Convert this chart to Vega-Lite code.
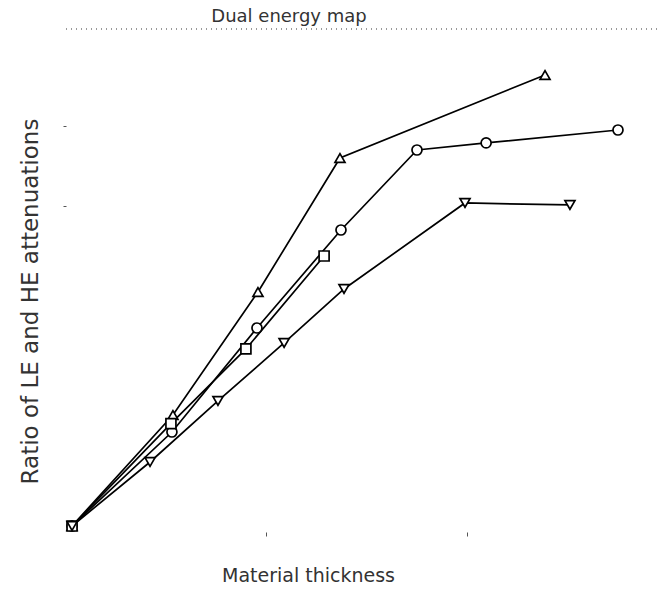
{
  "$schema": "https://vega.github.io/schema/vega-lite/v6.json",
  "width": 594,
  "height": 503,
  "autosize": "none",
  "padding": {"left": 66, "top": 29, "right": 6, "bottom": 60},
  "background": "white",
  "config": {"view": {"stroke": null}, "font": "DejaVu Sans"},
  "title": {
    "text": "Dual energy map",
    "font": "DejaVu Sans",
    "fontSize": 18,
    "fontWeight": "normal",
    "color": "#333",
    "anchor": "middle",
    "frame": "group",
    "baseline": "alphabetic",
    "offset": 7,
    "dx": -74,
    "dy": 18
  },
  "data": {
    "values": [
      {"series": "A", "x": 0.035, "y": 0.0},
      {"series": "A", "x": 0.537, "y": 1.388},
      {"series": "A", "x": 0.960, "y": 2.925},
      {"series": "A", "x": 1.368, "y": 4.6},
      {"series": "A", "x": 2.388, "y": 5.638},
      {"series": "B", "x": 0.035, "y": 0.0},
      {"series": "B", "x": 0.532, "y": 1.175},
      {"series": "B", "x": 0.955, "y": 2.475},
      {"series": "B", "x": 1.373, "y": 3.7},
      {"series": "B", "x": 1.751, "y": 4.7},
      {"series": "B", "x": 2.095, "y": 4.788},
      {"series": "B", "x": 2.751, "y": 4.95},
      {"series": "C", "x": 0.035, "y": 0.0},
      {"series": "C", "x": 0.527, "y": 1.28},
      {"series": "C", "x": 0.900, "y": 2.213},
      {"series": "C", "x": 1.289, "y": 3.375},
      {"series": "D", "x": 0.035, "y": 0.0},
      {"series": "D", "x": 0.423, "y": 0.8},
      {"series": "D", "x": 0.761, "y": 1.563},
      {"series": "D", "x": 1.090, "y": 2.288},
      {"series": "D", "x": 1.388, "y": 2.963},
      {"series": "D", "x": 1.990, "y": 4.038},
      {"series": "D", "x": 2.512, "y": 4.013}
    ]
  },
  "encoding": {
    "x": {
      "field": "x", "type": "quantitative",
      "scale": {"domain": [0.005, 2.96], "nice": false, "zero": false},
      "axis": {
        "values": [1, 2], "labels": false, "domain": false, "grid": false,
        "tickColor": "#555", "tickSize": 4, "tickWidth": 1,
        "title": "Material thickness",
        "titleFont": "DejaVu Sans", "titleFontSize": 19, "titleFontWeight": "normal",
        "titleColor": "#333", "titleX": 242, "titleY": 49,
        "titleBaseline": "alphabetic", "titleAlign": "center"
      }
    },
    "y": {
      "field": "y", "type": "quantitative",
      "scale": {"domain": [-0.075, 6.2125], "nice": false, "zero": false},
      "axis": {
        "values": [4, 5], "labels": false, "domain": false, "grid": false,
        "tickColor": "#555", "tickSize": 3, "tickWidth": 1,
        "title": "Ratio of LE and HE attenuations",
        "titleFont": "DejaVu Sans", "titleFontSize": 23, "titleFontWeight": "normal",
        "titleColor": "#333", "titleX": -29, "titleY": 272,
        "titleAngle": -90, "titleBaseline": "alphabetic", "titleAlign": "center"
      }
    }
  },
  "layer": [
    {
      "mark": {"type": "rule", "color": "#999", "strokeDash": [1, 4], "strokeWidth": 1},
      "encoding": {
        "x": {"datum": 0.005},
        "x2": {"datum": 2.96},
        "y": {"datum": 6.2125}
      }
    },
    {
      "mark": {"type": "line", "color": "black", "strokeWidth": 1.7},
      "encoding": {
        "detail": {"field": "series", "type": "nominal"}
      }
    },
    {
      "mark": {"type": "point", "filled": false, "stroke": "black", "fill": "white", "fillOpacity": 1, "strokeWidth": 1.7, "size": 100, "opacity": 1},
      "encoding": {
        "shape": {
          "field": "series", "type": "nominal",
          "scale": {"domain": ["A", "B", "C", "D"], "range": ["triangle-up", "circle", "square", "triangle-down"]},
          "legend": null
        }
      }
    }
  ]
}
